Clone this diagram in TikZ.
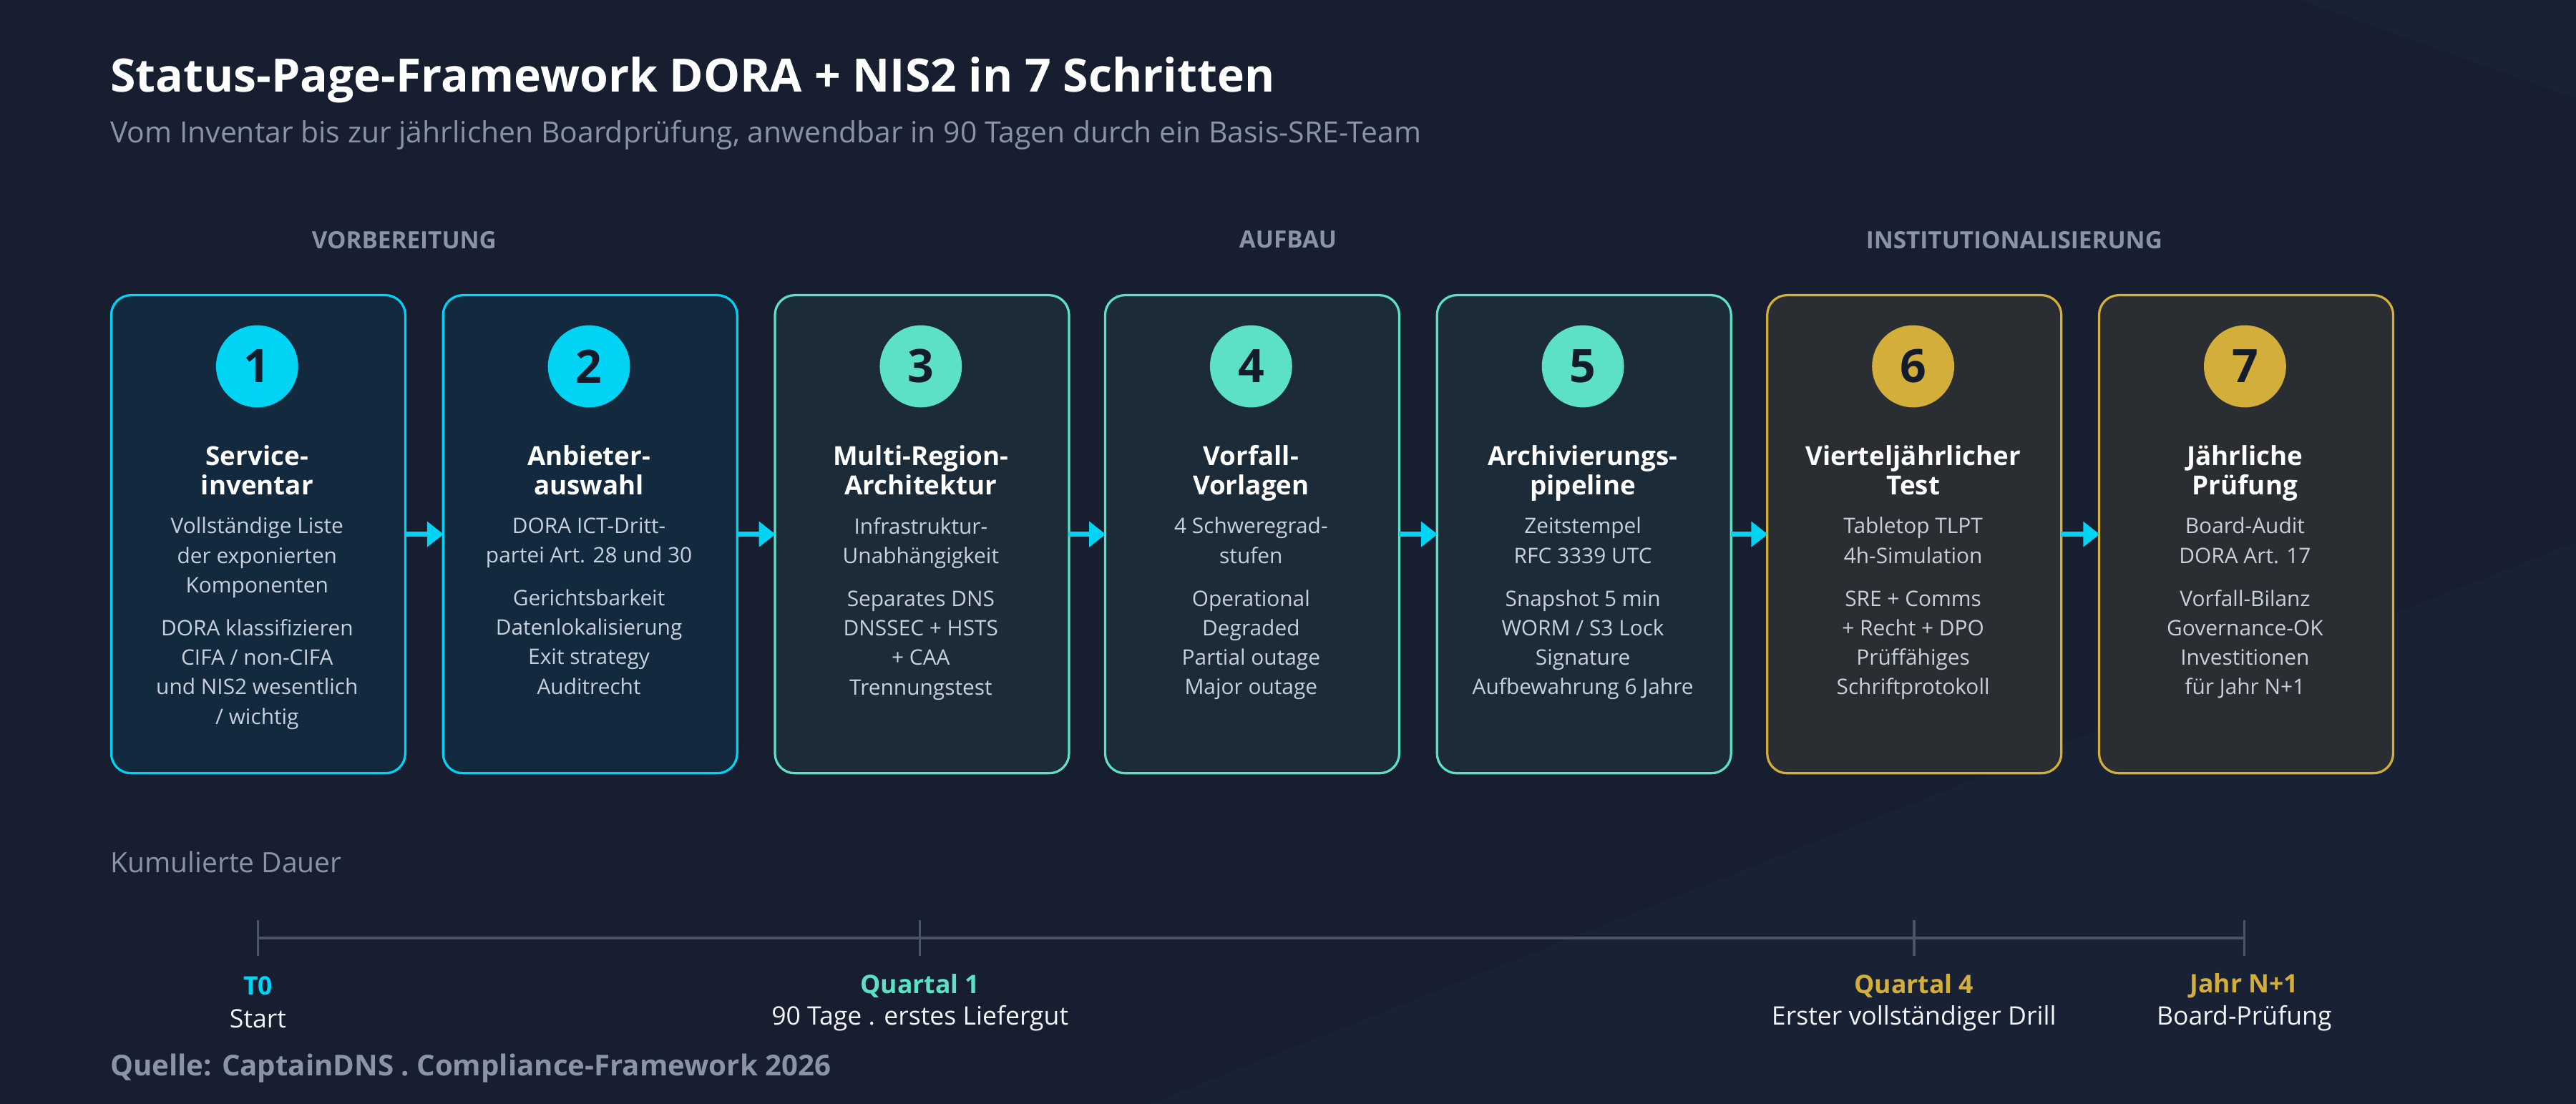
\documentclass[tikz,border=0pt]{standalone}
\usepackage{fontspec}
\setmainfont{Open Sans}
\usetikzlibrary{arrows.meta}
\definecolor{bg}{HTML}{161E30}
\definecolor{bgb}{HTML}{1C2638}
\definecolor{cy}{HTML}{00D4F5}
\definecolor{tl}{HTML}{5CE1C6}
\definecolor{gd}{HTML}{D4AE3A}
\definecolor{fcy}{HTML}{13293D}
\definecolor{ftl}{HTML}{1B2B37}
\definecolor{fgd}{HTML}{2A2E33}
\definecolor{sub}{HTML}{8A94A6}
\definecolor{body}{HTML}{C8D0DC}
\definecolor{dark}{HTML}{141C2C}
\definecolor{axis}{HTML}{4A5568}
\tikzset{
 card/.style={draw=#1, line width=1.4pt, rounded corners=12pt, minimum width=179pt, minimum height=291pt, inner sep=0pt},
 num/.style={circle, fill=#1, minimum size=50pt, inner sep=0pt, text=dark, font=\fontsize{28}{28}\selectfont\bfseries},
 ctitle/.style={align=center, text=white, font=\fontsize{16}{18}\selectfont\bfseries, anchor=north},
 cbody/.style={align=center, text=body, font=\fontsize{13}{18}\selectfont, anchor=north},
 sect/.style={text=sub, font=\fontsize{14.5}{14.5}\selectfont\bfseries},
 flow/.style={cy, line width=3pt, -{Triangle[length=10pt,width=15pt]}, shorten <=-1pt, shorten >=-1pt},
 tick/.style={axis, line width=1.5pt},
 tl1/.style={font=\fontsize{15.5}{15.5}\selectfont\bfseries},
 tl2/.style={text=white!90!sub, font=\fontsize{15.5}{15.5}\selectfont},
}
\newcommand{\mycard}[6]{%
 \node[card=#3, fill=f#3, anchor=north west] (c#1) at (#2,179) {};
 \node[num=#3] (n#1) at (#2+89.5,223) {#1};
 \node[ctitle] (t#1) at (#2+89.5,267.5) {#4};
 \node[cbody] (b#1) at (#2+89.5,311.5) {#5\\[8pt]#6};
}
\begin{document}
\begin{tikzpicture}[x=1pt,y=-1pt]
\fill[bg] (0,0) rectangle (1568,672);
\fill[bgb, opacity=0.6] (700,672) -- (1568,330) -- (1568,672) -- cycle;
\fill[bgb, opacity=0.5] (1400,0) -- (1568,0) -- (1568,60) -- cycle;
\useasboundingbox (0,0) rectangle (1568,672);
\node[anchor=base west, text=white, font=\fontsize{28}{28}\selectfont\bfseries, inner sep=0pt] (title) at (67,56) {Status-Page-Framework DORA + NIS2 in 7 Schritten};
\node[anchor=base west, text=sub, font=\fontsize{17.8}{17.8}\selectfont, inner sep=0pt] (subtitle) at (67,87) {Vom Inventar bis zur jährlichen Boardprüfung, anwendbar in 90 Tagen durch ein Basis-SRE-Team};
\node[sect] (s1) at (246,146) {VORBEREITUNG};
\node[sect] (s2) at (784,146) {AUFBAU};
\node[sect] (s3) at (1226,146) {INSTITUTIONALISIERUNG};
\mycard{1}{67}{cy}{Service-\\inventar}{Vollständige Liste\\der exponierten\\Komponenten}{DORA klassifizieren\\CIFA / non-CIFA\\und NIS2 wesentlich\\{}/ wichtig}
\mycard{2}{269}{cy}{Anbieter-\\auswahl}{DORA ICT-Dritt-\\partei Art. 28 und 30}{Gerichtsbarkeit\\Datenlokalisierung\\Exit strategy\\Auditrecht}
\mycard{3}{471}{tl}{Multi-Region-\\Architektur}{Infrastruktur-\\Unabhängigkeit}{Separates DNS\\DNSSEC + HSTS\\+ CAA\\Trennungstest}
\mycard{4}{672}{tl}{Vorfall-\\Vorlagen}{4 Schweregrad-\\stufen}{Operational\\Degraded\\Partial outage\\Major outage}
\mycard{5}{874}{tl}{Archivierungs-\\pipeline}{Zeitstempel\\RFC 3339 UTC}{Snapshot 5 min\\WORM / S3 Lock\\Signature\\Aufbewahrung 6 Jahre}
\mycard{6}{1075}{gd}{Vierteljährlicher\\Test}{Tabletop TLPT\\4h-Simulation}{SRE + Comms\\+ Recht + DPO\\Prüffähiges\\Schriftprotokoll}
\mycard{7}{1277}{gd}{Jährliche\\Prüfung}{Board-Audit\\DORA Art. 17}{Vorfall-Bilanz\\Governance-OK\\Investitionen\\für Jahr N+1}
\draw[flow] (c1.east) -- (c2.west);
\draw[flow] (c2.east) -- (c3.west);
\draw[flow] (c3.east) -- (c4.west);
\draw[flow] (c4.east) -- (c5.west);
\draw[flow] (c5.east) -- (c6.west);
\draw[flow] (c6.east) -- (c7.west);
\node[anchor=base west, text=sub, font=\fontsize{17}{17}\selectfont, inner sep=0pt] (kd) at (67,531) {Kumulierte Dauer};
\coordinate (p0) at (157,571);
\coordinate (p1) at (560,571);
\coordinate (p2) at (1165,571);
\coordinate (p3) at (1366,571);
\draw[tick] (p0) -- (p3);
\draw[tick] (157,560) -- (157,582);
\draw[tick] (560,560) -- (560,582);
\draw[tick] (1165,560) -- (1165,582);
\draw[tick] (1366,560) -- (1366,582);
\node[tl1, text=cy] (l0) at (157,600) {T0};
\node[tl2] (m0) at (157,620) {Start};
\node[tl1, text=tl] (l1) at (560,600) {Quartal 1};
\node[tl2] (m1) at (560,620) {90 Tage . erstes Liefergut};
\node[tl1, text=gd] (l2) at (1165,600) {Quartal 4};
\node[tl2] (m2) at (1165,620) {Erster vollständiger Drill};
\node[tl1, text=gd] (l3) at (1366,600) {Jahr N+1};
\node[tl2] (m3) at (1366,620) {Board-Prüfung};
\node[anchor=base west, text=sub, font=\fontsize{17.5}{17.5}\selectfont\bfseries, inner sep=0pt] (src) at (67,655) {Quelle: CaptainDNS . Compliance-Framework 2026};
\end{tikzpicture}
\end{document}
